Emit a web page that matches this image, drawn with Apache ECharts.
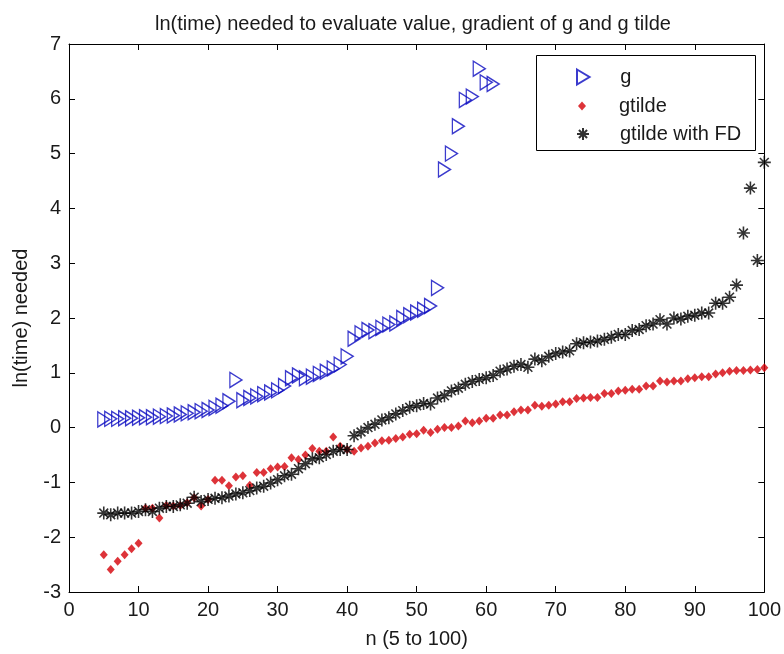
<!DOCTYPE html>
<html>
<head>
<meta charset="utf-8">
<script src="https://cdn.jsdelivr.net/npm/echarts@6/dist/echarts.min.js"></script>
<style>html,body{margin:0;padding:0;background:#fff}#c{width:784px;height:654px}</style>
</head>
<body>
<div id="c"></div>
<script>
// n values (5 to 100)
const nValues = [5,6,7,8,9,10,11,12,13,14,15,16,17,18,19,20,21,22,23,24,25,26,27,28,29,30,
  31,32,33,34,35,36,37,38,39,40,41,42,43,44,45,46,47,48,49,50,51,52,53,54,55,56,57,58,59,60,
  61,62,63,64,65,66,67,68,69,70,71,72,73,74,75,76,77,78,79,80,81,82,83,84,85,86,87,88,89,90,
  91,92,93,94,95,96,97,98,99,100];
// n values for g (5 to 61)
const gN = [5,6,7,8,9,10,11,12,13,14,15,16,17,18,19,20,21,22,23,24,25,26,27,28,29,30,
  31,32,33,34,35,36,37,38,39,40,41,42,43,44,45,46,47,48,49,50,51,52,53,54,55,56,57,58,59,60,61];
const gValues = [0.15,0.16,0.16,0.17,0.17,0.18,0.19,0.19,0.2,0.21,
  0.22,0.24,0.26,0.28,0.3,0.32,0.36,0.4,0.48,0.87,
  0.5,0.54,0.57,0.61,0.64,0.68,0.76,0.9,0.95,0.9,
  0.93,0.98,1.02,1.08,1.15,1.3,1.62,1.72,1.78,1.76,
  1.82,1.88,1.9,2.0,2.05,2.1,2.15,2.22,2.55,4.71,
  5.0,5.5,5.98,6.04,6.55,6.3,6.27];
const gtildeValues = [-2.32,-2.59,-2.44,-2.32,-2.21,-2.11,-1.47,-1.47,-1.65,-1.42,
  -1.43,-1.42,-1.37,-1.28,-1.43,-1.31,-0.96,-0.96,-1.06,-0.9,
  -0.88,-1.05,-0.82,-0.82,-0.75,-0.72,-0.71,-0.55,-0.58,-0.5,
  -0.38,-0.43,-0.43,-0.17,-0.34,-0.4,-0.43,-0.37,-0.34,-0.28,
  -0.24,-0.23,-0.2,-0.17,-0.12,-0.11,-0.05,-0.09,-0.03,0.0,
  0.0,0.03,0.12,0.09,0.12,0.17,0.17,0.23,0.23,0.29,
  0.32,0.32,0.41,0.39,0.41,0.43,0.47,0.47,0.53,0.54,
  0.55,0.55,0.62,0.62,0.67,0.68,0.7,0.7,0.76,0.76,
  0.85,0.83,0.85,0.85,0.89,0.91,0.93,0.93,0.98,1.0,
  1.03,1.04,1.04,1.05,1.06,1.09];
const gtildeFDValues = [-1.56,-1.59,-1.56,-1.56,-1.56,-1.53,-1.5,-1.53,-1.47,-1.44,
  -1.44,-1.41,-1.38,-1.27,-1.35,-1.31,-1.29,-1.28,-1.25,-1.21,
  -1.19,-1.15,-1.1,-1.07,-1.01,-0.95,-0.88,-0.85,-0.75,-0.66,
  -0.57,-0.55,-0.49,-0.43,-0.4,-0.4,-0.15,-0.08,0.0,0.06,
  0.14,0.18,0.25,0.31,0.37,0.4,0.44,0.43,0.54,0.58,
  0.67,0.72,0.79,0.84,0.88,0.91,0.95,1.03,1.07,1.12,
  1.15,1.1,1.25,1.22,1.3,1.35,1.38,1.4,1.53,1.55,
  1.56,1.58,1.61,1.65,1.7,1.7,1.77,1.79,1.86,1.89,
  1.97,1.89,2.0,1.98,2.03,2.05,2.09,2.09,2.27,2.27,
  2.38,2.6,3.55,4.37,3.05,4.84];
const seriesNames = ['g', 'gtilde', 'gtilde with FD'];
const titleText = 'ln(time) needed to evaluate value, gradient of g and g tilde';
const xAxisName = 'n (5 to 100)';
const yAxisName = 'ln(time) needed';

const pair = (xs, ys) => ys.map((v, i) => [xs[i], v]);

const FONT = 'Liberation Sans, Arial, sans-serif';
const TXT = '#1a1a1a';
const triPath = 'path://M0 0L10 6L0 12Z';
const diaPath = 'path://M4 0L8 4.5L4 9L0 4.5Z';
const starPath = 'path://M5 0L5 10M0 5L10 5M1.6 1.6L8.4 8.4M8.4 1.6L1.6 8.4';

const chart = echarts.init(document.getElementById('c'), null, {renderer: 'canvas'});
const axisCommon = {
  axisLine: {show: true, onZero: false, lineStyle: {color: '#000', width: 1}},
  axisTick: {show: true, inside: true, length: 6, lineStyle: {color: '#000'}},
  splitLine: {show: false},
  axisLabel: {color: TXT, fontSize: 20, fontFamily: FONT}
};
const legendText = {fontSize: 20, color: TXT, fontFamily: FONT};
chart.setOption({
  animation: false,
  backgroundColor: '#fff',
  title: {
    text: titleText, left: 150, top: 9,
    textStyle: {fontSize: 20, fontWeight: 'normal', color: TXT, fontFamily: FONT}
  },
  grid: {left: 69, right: 19, top: 44, bottom: 62, containLabel: false},
  legend: [
    {data: [seriesNames[0]], left: 576, top: 67, padding: 0, itemWidth: 64, itemHeight: 15,
     selectedMode: false, textStyle: legendText},
    {data: [seriesNames[1]], left: 578, top: 96, padding: 0, itemWidth: 64, itemHeight: 9,
     selectedMode: false, textStyle: legendText},
    {data: [seriesNames[2]], left: 576, top: 124, padding: 0, itemWidth: 64, itemHeight: 12,
     selectedMode: false, textStyle: legendText}
  ],
  graphic: [{
    type: 'rect', shape: {x: 536.5, y: 55.5, width: 219, height: 95},
    style: {fill: null, stroke: '#000', lineWidth: 1}, z: 100
  }],
  xAxis: [
    Object.assign({}, axisCommon, {
      type: 'value', min: 0, max: 100, interval: 10, position: 'bottom',
      name: xAxisName, nameLocation: 'middle', nameGap: 37,
      nameTextStyle: {fontSize: 20, color: TXT, fontFamily: FONT},
      axisLabel: {color: TXT, fontSize: 20, fontFamily: FONT, margin: 8}
    }),
    Object.assign({}, axisCommon, {
      type: 'value', min: 0, max: 100, interval: 10, position: 'top',
      axisLabel: {show: false}
    })
  ],
  yAxis: [
    Object.assign({}, axisCommon, {
      type: 'value', min: -3, max: 7, interval: 1, position: 'left',
      name: yAxisName, nameLocation: 'middle', nameGap: 38,
      nameTextStyle: {fontSize: 20, color: TXT, fontFamily: FONT},
      axisLabel: {color: TXT, fontSize: 20, fontFamily: FONT, margin: 8}
    }),
    Object.assign({}, axisCommon, {
      type: 'value', min: -3, max: 7, interval: 1, position: 'right',
      axisLabel: {show: false}
    })
  ],
  series: [
    {
      name: seriesNames[0], type: 'scatter', data: pair(gN, gValues),
      symbol: triPath, symbolSize: [12, 15],
      itemStyle: {color: 'rgba(255,255,255,0)', borderColor: '#0a0ac0', borderWidth: 1.4}
    },
    {
      name: seriesNames[1], type: 'scatter', data: pair(nValues, gtildeValues),
      symbol: diaPath, symbolSize: [8, 9],
      itemStyle: {color: '#d40008', borderWidth: 0}
    },
    {
      name: seriesNames[2], type: 'scatter', data: pair(nValues, gtildeFDValues),
      symbol: starPath, symbolSize: 13,
      itemStyle: {color: '#000', borderColor: '#000', borderWidth: 1.6}
    }
  ]
});
</script>
</body>
</html>
